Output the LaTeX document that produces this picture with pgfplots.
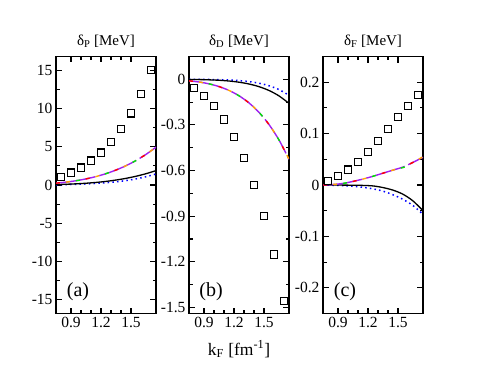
\documentclass[border=0pt]{standalone}
\usepackage{fontspec}
\setmainfont{Liberation Serif}
\usepackage{pgfplots}
\pgfplotsset{compat=1.18}
\definecolor{myviolet}{RGB}{160,32,240}
\definecolor{myorange}{RGB}{255,165,0}
\definecolor{mygreen}{RGB}{0,230,0}
\pgfplotsset{
  panel/.style={
    scale only axis, width=100pt, height=257pt,
    xmin=0.75, xmax=1.75,
    xtick={0.9,1.2,1.5}, xticklabels={0.9,1.2,1.5}, minor x tick num=2,
    minor y tick num=1,
    tick align=inside, tick pos=both,
    major tick length=6pt, minor tick length=3.5pt,
    axis line style={line width=1.6pt},
    every tick/.style={black, line width=1.1pt},
    tick label style={font=\fontsize{15.5}{17}\selectfont},
    /pgf/number format/assume math mode=true,
    every axis title/.style={at={(0.5,1)}, anchor=base, yshift=11pt, font=\fontsize{15}{17}\selectfont},
    every axis x label/.style={at={(0.5,0)}, anchor=base, yshift=-41.5pt, font=\fontsize{17.5}{19}\selectfont},
    anchor=south west,
  },
  sq/.style={only marks, mark=square, mark size=3.6pt, black, mark options={line width=1.1pt}},
  blk/.style={black, line width=1.3pt, smooth, no marks},
  blu/.style={blue, line width=1.5pt, dash pattern=on 1.5pt off 3.2pt, smooth, no marks},
  cbase/.style={line width=1.4pt, smooth, no marks, myviolet, dash pattern=on 40pt off 4pt},
  cdash/.style={line width=1.4pt, smooth, no marks, dash pattern=on 4pt off 26pt},
}
\begin{document}
\begin{tikzpicture}
\path[use as bounding box] (0,0) rectangle (479pt,370pt);
% ---------------- panel (a)
\begin{axis}[panel, at={(56pt,56.5pt)},
  ymin=-16.8, ymax=16.8, ytick={-15,-10,-5,0,5,10,15},
  yticklabels={-15,-10,-5,0,5,10,15},
  title={δ\textsubscript{P} [MeV]}]
\addplot[sq] coordinates {(0.8,1.09) (0.9,1.62) (1.0,2.27) (1.1,3.19) (1.2,4.24) (1.3,5.64) (1.4,7.35) (1.5,9.36) (1.6,11.94) (1.7,15.0)};
\addplot[blu] coordinates {(0.75,0.03) (0.85,0.05) (0.95,0.09) (1.05,0.14) (1.15,0.21) (1.25,0.30) (1.35,0.42) (1.45,0.58) (1.55,0.80) (1.65,1.08) (1.75,1.44)};
\addplot[blk] coordinates {(0.75,0.058) (0.85,0.097) (0.95,0.154) (1.05,0.232) (1.15,0.336) (1.25,0.473) (1.35,0.649) (1.45,0.870) (1.55,1.143) (1.65,1.477) (1.75,1.88)};
\addplot[cbase] coordinates {(0.75,0.24) (0.85,0.375) (0.95,0.558) (1.05,0.798) (1.15,1.103) (1.25,1.486) (1.35,1.956) (1.45,2.524) (1.55,3.203) (1.65,4.004) (1.75,4.94)};
\addplot[cdash, red, dash phase=0pt] coordinates {(0.75,0.24) (0.85,0.375) (0.95,0.558) (1.05,0.798) (1.15,1.103) (1.25,1.486) (1.35,1.956) (1.45,2.524) (1.55,3.203) (1.65,4.004) (1.75,4.94)};
\addplot[cdash, mygreen, dash phase=10pt] coordinates {(0.75,0.24) (0.85,0.375) (0.95,0.558) (1.05,0.798) (1.15,1.103) (1.25,1.486) (1.35,1.956) (1.45,2.524) (1.55,3.203) (1.65,4.004) (1.75,4.94)};
\addplot[cdash, myorange, dash phase=20pt] coordinates {(0.75,0.24) (0.85,0.375) (0.95,0.558) (1.05,0.798) (1.15,1.103) (1.25,1.486) (1.35,1.956) (1.45,2.524) (1.55,3.203) (1.65,4.004) (1.75,4.94)};
\node[font=\fontsize{20}{22}\selectfont] at (rel axis cs:0.22,0.085) {(a)};
\end{axis}
% ---------------- panel (b)
\begin{axis}[panel, at={(189pt,56.5pt)},
  ymin=-1.54, ymax=0.15, ytick={-1.5,-1.2,-0.9,-0.6,-0.3,0},
  yticklabels={-1.5,-1.2,-0.9,-0.6,-0.3,0},
  title={δ\textsubscript{D} [MeV]},
  xlabel={k\textsubscript{F} [fm\textsuperscript{-1}]}]
\addplot[sq] coordinates {(0.8,-0.059) (0.9,-0.108) (1.0,-0.176) (1.1,-0.264) (1.2,-0.378) (1.3,-0.517) (1.4,-0.693) (1.5,-0.90) (1.6,-1.152) (1.7,-1.456)};
\addplot[blu] coordinates {(0.75,-0.0002) (0.85,-0.0005) (0.95,-0.0011) (1.05,-0.0023) (1.15,-0.0045) (1.25,-0.0084) (1.35,-0.0150) (1.45,-0.0256) (1.55,-0.0422) (1.65,-0.0675) (1.75,-0.105)};
\addplot[blk] coordinates {(0.75,-0.0008) (0.85,-0.0017) (0.95,-0.0034) (1.05,-0.0063) (1.15,-0.0112) (1.25,-0.0190) (1.35,-0.0308) (1.45,-0.0483) (1.55,-0.0735) (1.65,-0.1091) (1.75,-0.158)};
\addplot[cbase] coordinates {(0.75,-0.0098) (0.85,-0.0177) (0.95,-0.0298) (1.05,-0.0477) (1.15,-0.0731) (1.25,-0.1082) (1.35,-0.1553) (1.45,-0.2173) (1.55,-0.2973) (1.65,-0.3989) (1.75,-0.526)};
\addplot[cdash, red, dash phase=0pt] coordinates {(0.75,-0.0098) (0.85,-0.0177) (0.95,-0.0298) (1.05,-0.0477) (1.15,-0.0731) (1.25,-0.1082) (1.35,-0.1553) (1.45,-0.2173) (1.55,-0.2973) (1.65,-0.3989) (1.75,-0.526)};
\addplot[cdash, mygreen, dash phase=10pt] coordinates {(0.75,-0.0098) (0.85,-0.0177) (0.95,-0.0298) (1.05,-0.0477) (1.15,-0.0731) (1.25,-0.1082) (1.35,-0.1553) (1.45,-0.2173) (1.55,-0.2973) (1.65,-0.3989) (1.75,-0.526)};
\addplot[cdash, myorange, dash phase=20pt] coordinates {(0.75,-0.0098) (0.85,-0.0177) (0.95,-0.0298) (1.05,-0.0477) (1.15,-0.0731) (1.25,-0.1082) (1.35,-0.1553) (1.45,-0.2173) (1.55,-0.2973) (1.65,-0.3989) (1.75,-0.526)};
\node[font=\fontsize{20}{22}\selectfont] at (rel axis cs:0.22,0.085) {(b)};
\end{axis}
% ---------------- panel (c)
\begin{axis}[panel, at={(323pt,56.5pt)},
  ymin=-0.25, ymax=0.25, ytick={-0.2,-0.1,0,0.1,0.2},
  yticklabels={-0.2,-0.1,0,0.1,0.2},
  title={δ\textsubscript{F} [MeV]}]
\addplot[sq] coordinates {(0.8,0.0084) (0.9,0.018) (1.0,0.030) (1.1,0.045) (1.2,0.0645) (1.3,0.086) (1.4,0.109) (1.5,0.132) (1.6,0.154) (1.7,0.175)};
\addplot[blu] coordinates {(0.75,0) (0.85,-0.0005) (0.95,-0.0012) (1.05,-0.0025) (1.15,-0.0045) (1.25,-0.0075) (1.35,-0.012) (1.45,-0.019) (1.55,-0.028) (1.65,-0.040) (1.75,-0.057)};
\addplot[blk] coordinates {(0.75,0) (0.85,-0.0001) (0.95,-0.0002) (1.05,-0.0004) (1.15,-0.0008) (1.25,-0.0018) (1.35,-0.005) (1.45,-0.010) (1.55,-0.018) (1.65,-0.031) (1.75,-0.050)};
\addplot[cbase] coordinates {(0.75,0) (0.85,0.001) (0.95,0.003) (1.05,0.007) (1.15,0.0116) (1.25,0.017) (1.35,0.023) (1.45,0.029) (1.55,0.035) (1.65,0.044) (1.75,0.054)};
\addplot[cdash, red, dash phase=0pt] coordinates {(0.75,0) (0.85,0.001) (0.95,0.003) (1.05,0.007) (1.15,0.0116) (1.25,0.017) (1.35,0.023) (1.45,0.029) (1.55,0.035) (1.65,0.044) (1.75,0.054)};
\addplot[cdash, mygreen, dash phase=10pt] coordinates {(0.75,0) (0.85,0.001) (0.95,0.003) (1.05,0.007) (1.15,0.0116) (1.25,0.017) (1.35,0.023) (1.45,0.029) (1.55,0.034) (1.65,0.041) (1.75,0.049)};
\addplot[cdash, myorange, dash phase=20pt] coordinates {(0.75,0) (0.85,0.001) (0.95,0.003) (1.05,0.007) (1.15,0.0116) (1.25,0.017) (1.35,0.023) (1.45,0.029) (1.55,0.035) (1.65,0.044) (1.75,0.055)};
\node[font=\fontsize{20}{22}\selectfont] at (rel axis cs:0.22,0.085) {(c)};
\end{axis}
\end{tikzpicture}
\end{document}
